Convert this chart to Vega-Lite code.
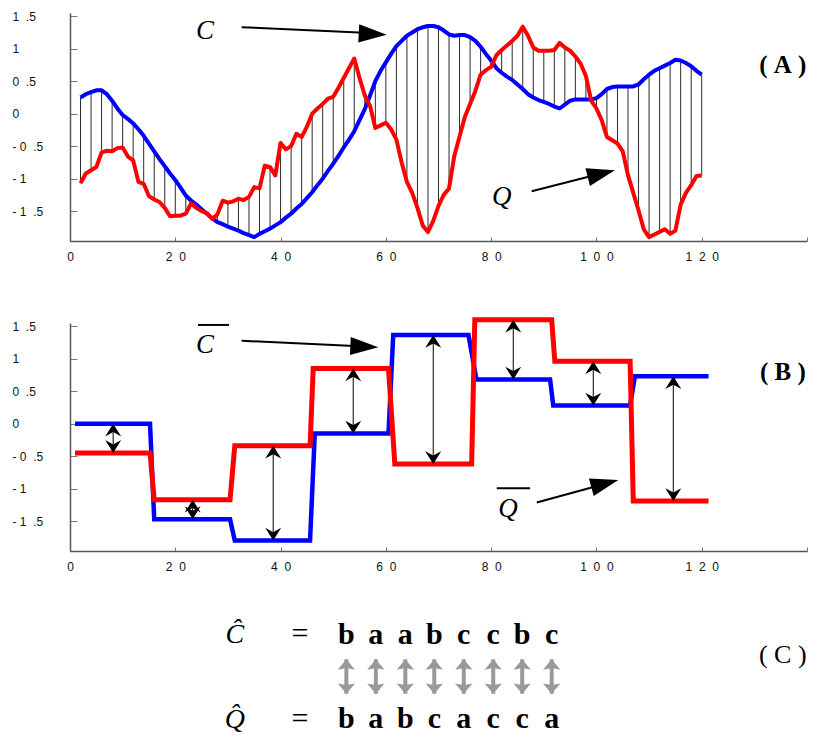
{
  "$schema": "https://vega.github.io/schema/vega-lite/v6.json",
  "padding": {"left": 12, "top": 10, "right": 0, "bottom": 0},
  "background": "white",
  "bounds": "flush",
  "spacing": 82,
  "resolve": {"scale": {"x": "independent", "y": "independent"}},
  "config": {
    "view": {"stroke": null},
    "axis": {"grid": false, "domainColor": "#555", "domainWidth": 1.5, "tickColor": "#777", "tickWidth": 1, "labelFont": "Liberation Sans", "labelFontSize": 12, "labelColor": "#111", "labelFlush": false, "labelOverlap": false}
  },
  "datasets": {
    "sA": [
      {"x":2,"c":0.25,"q":-1.07},{"x":3,"c":0.30,"q":-0.92},{"x":4,"c":0.33,"q":-0.87},{"x":5,"c":0.36,"q":-0.82},{"x":6,"c":0.36,"q":-0.60},{"x":7,"c":0.30,"q":-0.57},{"x":8,"c":0.20,"q":-0.58},{"x":9,"c":0.08,"q":-0.53},{"x":10,"c":-0.02,"q":-0.52},
      {"x":11,"c":-0.08,"q":-0.66},{"x":12,"c":-0.15,"q":-0.72},{"x":13,"c":-0.24,"q":-1.05},{"x":14,"c":-0.34,"q":-1.08},{"x":15,"c":-0.46,"q":-1.27},{"x":16,"c":-0.58,"q":-1.32},{"x":17,"c":-0.70,"q":-1.36},{"x":18,"c":-0.81,"q":-1.45},{"x":19,"c":-0.92,"q":-1.58},{"x":20,"c":-1.02,"q":-1.57},
      {"x":21,"c":-1.14,"q":-1.57},{"x":22,"c":-1.26,"q":-1.54},{"x":23,"c":-1.34,"q":-1.38},{"x":24,"c":-1.40,"q":-1.45},{"x":25,"c":-1.47,"q":-1.50},{"x":26,"c":-1.54,"q":-1.53},{"x":27,"c":-1.61,"q":-1.62},{"x":28,"c":-1.67,"q":-1.55},{"x":29,"c":-1.70,"q":-1.34},{"x":30,"c":-1.74,"q":-1.37},
      {"x":31,"c":-1.77,"q":-1.35},{"x":32,"c":-1.80,"q":-1.31},{"x":33,"c":-1.84,"q":-1.33},{"x":34,"c":-1.87,"q":-1.28},{"x":35,"c":-1.90,"q":-1.13},{"x":36,"c":-1.85,"q":-1.15},{"x":37,"c":-1.81,"q":-0.80},{"x":38,"c":-1.77,"q":-0.82},{"x":39,"c":-1.72,"q":-0.95},{"x":40,"c":-1.67,"q":-0.45},
      {"x":41,"c":-1.60,"q":-0.55},{"x":42,"c":-1.54,"q":-0.50},{"x":43,"c":-1.46,"q":-0.31},{"x":44,"c":-1.39,"q":-0.36},{"x":45,"c":-1.30,"q":-0.20},{"x":46,"c":-1.21,"q":0.00},{"x":47,"c":-1.10,"q":0.08},{"x":48,"c":-1.00,"q":0.15},{"x":49,"c":-0.88,"q":0.23},{"x":50,"c":-0.77,"q":0.26},
      {"x":51,"c":-0.65,"q":0.40},{"x":52,"c":-0.52,"q":0.55},{"x":53,"c":-0.40,"q":0.70},{"x":54,"c":-0.27,"q":0.85},{"x":55,"c":-0.10,"q":0.55},{"x":56,"c":0.07,"q":0.28},{"x":57,"c":0.28,"q":0.12},{"x":58,"c":0.50,"q":-0.22},{"x":59,"c":0.66,"q":-0.18},{"x":60,"c":0.79,"q":-0.14},
      {"x":61,"c":0.92,"q":-0.24},{"x":62,"c":1.04,"q":-0.40},{"x":63,"c":1.12,"q":-0.75},{"x":64,"c":1.20,"q":-1.05},{"x":65,"c":1.25,"q":-1.22},{"x":66,"c":1.30,"q":-1.45},{"x":67,"c":1.33,"q":-1.72},{"x":68,"c":1.35,"q":-1.82},{"x":69,"c":1.35,"q":-1.65},{"x":70,"c":1.33,"q":-1.42},
      {"x":71,"c":1.28,"q":-1.25},{"x":72,"c":1.22,"q":-1.15},{"x":73,"c":1.20,"q":-0.65},{"x":74,"c":1.21,"q":-0.35},{"x":75,"c":1.21,"q":-0.05},{"x":76,"c":1.18,"q":0.15},{"x":77,"c":1.12,"q":0.35},{"x":78,"c":1.03,"q":0.60},{"x":79,"c":0.92,"q":0.67},{"x":80,"c":0.82,"q":0.72},
      {"x":81,"c":0.70,"q":0.90},{"x":82,"c":0.63,"q":0.98},{"x":83,"c":0.57,"q":1.05},{"x":84,"c":0.52,"q":1.12},{"x":85,"c":0.45,"q":1.20},{"x":86,"c":0.38,"q":1.34},{"x":87,"c":0.30,"q":1.20},{"x":88,"c":0.25,"q":1.02},{"x":89,"c":0.21,"q":0.97},{"x":90,"c":0.18,"q":0.97},
      {"x":91,"c":0.15,"q":0.97},{"x":92,"c":0.11,"q":0.98},{"x":93,"c":0.08,"q":1.09},{"x":94,"c":0.14,"q":1.02},{"x":95,"c":0.20,"q":0.97},{"x":96,"c":0.22,"q":0.88},{"x":97,"c":0.22,"q":0.77},{"x":98,"c":0.22,"q":0.58},{"x":99,"c":0.22,"q":0.20},{"x":100,"c":0.24,"q":0.08},
      {"x":101,"c":0.30,"q":-0.10},{"x":102,"c":0.38,"q":-0.36},{"x":103,"c":0.41,"q":-0.41},{"x":104,"c":0.42,"q":-0.46},{"x":105,"c":0.42,"q":-0.58},{"x":106,"c":0.42,"q":-0.95},{"x":107,"c":0.42,"q":-1.22},{"x":108,"c":0.45,"q":-1.49},{"x":109,"c":0.53,"q":-1.78},{"x":110,"c":0.60,"q":-1.90},
      {"x":111,"c":0.66,"q":-1.86},{"x":112,"c":0.70,"q":-1.82},{"x":113,"c":0.74,"q":-1.78},{"x":114,"c":0.78,"q":-1.85},{"x":115,"c":0.83,"q":-1.80},{"x":116,"c":0.82,"q":-1.40},{"x":117,"c":0.78,"q":-1.22},{"x":118,"c":0.73,"q":-1.10},{"x":119,"c":0.66,"q":-0.96},{"x":120,"c":0.60,"q":-0.95}
    ],
    "sB": [
      {"s":"C","x":0.95,"y":0},{"s":"C","x":15.2,"y":0},{"s":"C","x":16.0,"y":-1.47},{"s":"C","x":30.4,"y":-1.47},{"s":"C","x":31.3,"y":-1.80},{"s":"C","x":45.6,"y":-1.80},{"s":"C","x":46.5,"y":-0.15},{"s":"C","x":60.5,"y":-0.15},{"s":"C","x":61.4,"y":1.365},{"s":"C","x":75.7,"y":1.365},{"s":"C","x":77.2,"y":0.68},{"s":"C","x":91.2,"y":0.68},{"s":"C","x":91.8,"y":0.28},{"s":"C","x":106.4,"y":0.28},{"s":"C","x":107.3,"y":0.73},{"s":"C","x":121.3,"y":0.73},
      {"s":"Q","x":0.95,"y":-0.45},{"s":"Q","x":15.2,"y":-0.45},{"s":"Q","x":16.0,"y":-1.17},{"s":"Q","x":30.4,"y":-1.17},{"s":"Q","x":31.3,"y":-0.34},{"s":"Q","x":45.6,"y":-0.34},{"s":"Q","x":46.2,"y":0.85},{"s":"Q","x":60.5,"y":0.85},{"s":"Q","x":61.7,"y":-0.62},{"s":"Q","x":76.3,"y":-0.62},{"s":"Q","x":76.9,"y":1.60},{"s":"Q","x":91.5,"y":1.60},{"s":"Q","x":92.1,"y":0.96},{"s":"Q","x":106.4,"y":0.96},{"s":"Q","x":107.0,"y":-1.19},{"s":"Q","x":121.3,"y":-1.19}
    ],
    "arrB": [
      {"x":8.2,"top":0,"bot":-0.45},{"x":23.3,"top":-1.17,"bot":-1.47},{"x":38.6,"top":-0.34,"bot":-1.80},{"x":53.8,"top":0.85,"bot":-0.15},{"x":69,"top":1.365,"bot":-0.62},{"x":84.2,"top":1.60,"bot":0.68},{"x":99.4,"top":0.96,"bot":0.28},{"x":114.6,"top":0.73,"bot":-1.19}
    ],
    "arrC": [
      {"x":52.5,"top":74.5,"bot":41},{"x":58.1,"top":74.5,"bot":41},{"x":63.7,"top":74.5,"bot":41},{"x":69.2,"top":74.5,"bot":41},{"x":74.8,"top":74.5,"bot":41},{"x":80.4,"top":74.5,"bot":41},{"x":85.9,"top":74.5,"bot":41},{"x":91.5,"top":74.5,"bot":41}
    ],
    "letters": [
      {"x":52.5,"y":89,"t":"b"},{"x":58.1,"y":89,"t":"a"},{"x":63.7,"y":89,"t":"a"},{"x":69.2,"y":89,"t":"b"},{"x":74.8,"y":89,"t":"c"},{"x":80.4,"y":89,"t":"c"},{"x":85.9,"y":89,"t":"b"},{"x":91.5,"y":89,"t":"c"},
      {"x":52.5,"y":7.8,"t":"b"},{"x":58.1,"y":7.8,"t":"a"},{"x":63.7,"y":7.8,"t":"b"},{"x":69.2,"y":7.8,"t":"c"},{"x":74.8,"y":7.8,"t":"a"},{"x":80.4,"y":7.8,"t":"c"},{"x":85.9,"y":7.8,"t":"c"},{"x":91.5,"y":7.8,"t":"a"}
    ]
  },
  "vconcat": [
    {
      "width": 737, "height": 228,
      "layer": [
        {
          "data": {"name": "sA"},
          "transform": [{"filter": "datum.x % 2 == 0"}],
          "mark": {"type": "rule", "color": "#2a2a2a", "strokeWidth": 1},
          "encoding": {
            "x": {"field": "x", "type": "quantitative", "title": null, "scale": {"domain": [0, 140], "nice": false, "zero": false},
                  "axis": {"values": [0,20,40,60,80,100,120,140], "tickCount": 20, "tickSize": -4, "labelPadding": 14, "labelOverlap": false, "labelExpr": "datum.value >= 140 ? '' : replace(datum.label, regexp('([0-9])(?=[0-9])','g'), '$1\u00a0\u00a0')"}},
            "y": {"field": "c", "type": "quantitative", "title": null, "scale": {"domain": [-1.96, 1.55], "nice": false, "zero": false},
                  "axis": {"values": [-1.5,-1,-0.5,0,0.5,1,1.5], "tickCount": 20, "tickSize": -7, "labelAlign": "left", "labelBaseline": "middle", "labelOverlap": false, "labelPadding": 65,
                           "labelExpr": "datum.value > 1.2 ? '\u00a0\u00a01\u00a0\u00a0.5' : datum.value > 0.7 ? '\u00a0\u00a01' : datum.value > 0.2 ? '\u00a0\u00a00\u00a0\u00a0.5' : datum.value > -0.2 ? '\u00a0\u00a00' : datum.value > -0.7 ? '-\u00a00\u00a0\u00a0.5' : datum.value > -1.2 ? '-\u00a01' : '-\u00a01\u00a0\u00a0.5'"}},
            "y2": {"field": "q"}
          }
        },
        {
          "data": {"name": "sA"},
          "mark": {"type": "line", "color": "#0000ff", "strokeWidth": 4, "strokeJoin": "round"},
          "encoding": {"x": {"field": "x", "type": "quantitative", "title": null}, "y": {"field": "c", "type": "quantitative", "title": null}}
        },
        {
          "data": {"name": "sA"},
          "mark": {"type": "line", "color": "#ff0000", "strokeWidth": 4, "strokeJoin": "round"},
          "encoding": {"x": {"field": "x", "type": "quantitative", "title": null}, "y": {"field": "q", "type": "quantitative", "title": null}}
        },
        {
          "data": {"values": [{"x": 32.6, "y": 1.332, "x2": 58.0, "y2": 1.24}, {"x": 87.7, "y": -1.195, "x2": 100.0, "y2": -0.94}]},
          "mark": {"type": "rule", "color": "black", "strokeWidth": 2},
          "encoding": {"x": {"field": "x", "type": "quantitative", "title": null}, "y": {"field": "y", "type": "quantitative", "title": null}, "x2": {"field": "x2"}, "y2": {"field": "y2"}}
        },
        {
          "data": {"values": [{"x": 60.16, "y": 1.215, "a": 3.0}, {"x": 103.5, "y": -0.872, "a": -14.15}]},
          "mark": {"type": "point", "shape": "M0,0 L-2,-0.65 L-2,0.65 Z", "filled": true, "color": "black", "opacity": 1, "size": 784},
          "encoding": {"x": {"field": "x", "type": "quantitative", "title": null}, "y": {"field": "y", "type": "quantitative", "title": null}, "angle": {"field": "a", "type": "quantitative", "scale": null}}
        },
        {
          "data": {"values": [{"x": 25.65, "y": 1.266, "t": "C"}, {"x": 82.0, "y": -1.283, "t": "Q"}]},
          "mark": {"type": "text", "font": "Liberation Serif", "fontStyle": "italic", "fontSize": 27, "color": "black", "align": "center", "baseline": "middle"},
          "encoding": {"x": {"field": "x", "type": "quantitative", "title": null}, "y": {"field": "y", "type": "quantitative", "title": null}, "text": {"field": "t"}}
        },
        {
          "data": {"values": [{"x": 135.4, "y": 0.743, "t": "(\u00a0A\u00a0)"}]},
          "mark": {"type": "text", "font": "Liberation Serif", "fontWeight": "bold", "fontSize": 25, "color": "black", "align": "center", "baseline": "middle"},
          "encoding": {"x": {"field": "x", "type": "quantitative", "title": null}, "y": {"field": "y", "type": "quantitative", "title": null}, "text": {"field": "t"}}
        }
      ]
    },
    {
      "width": 737, "height": 228,
      "layer": [
        {
          "data": {"name": "arrB"},
          "mark": {"type": "rule", "color": "black", "strokeWidth": 1},
          "encoding": {
            "x": {"field": "x", "type": "quantitative", "title": null, "scale": {"domain": [0, 140], "nice": false, "zero": false},
                  "axis": {"values": [0,20,40,60,80,100,120,140], "tickCount": 20, "tickSize": -4, "labelPadding": 14, "labelOverlap": false, "labelExpr": "datum.value >= 140 ? '' : replace(datum.label, regexp('([0-9])(?=[0-9])','g'), '$1\u00a0\u00a0')"}},
            "y": {"field": "bot", "type": "quantitative", "title": null, "scale": {"domain": [-1.96, 1.55], "nice": false, "zero": false},
                  "axis": {"values": [-1.5,-1,-0.5,0,0.5,1,1.5], "tickCount": 20, "tickSize": -7, "labelAlign": "left", "labelBaseline": "middle", "labelOverlap": false, "labelPadding": 65,
                           "labelExpr": "datum.value > 1.2 ? '\u00a0\u00a01\u00a0\u00a0.5' : datum.value > 0.7 ? '\u00a0\u00a01' : datum.value > 0.2 ? '\u00a0\u00a00\u00a0\u00a0.5' : datum.value > -0.2 ? '\u00a0\u00a00' : datum.value > -0.7 ? '-\u00a00\u00a0\u00a0.5' : datum.value > -1.2 ? '-\u00a01' : '-\u00a01\u00a0\u00a0.5'"}},
            "y2": {"field": "top"}
          }
        },
        {
          "data": {"name": "sB"},
          "transform": [{"filter": "datum.s == 'C'"}],
          "mark": {"type": "line", "color": "#0000ff", "strokeWidth": 4.5, "strokeJoin": "miter"},
          "encoding": {"x": {"field": "x", "type": "quantitative", "title": null}, "y": {"field": "y", "type": "quantitative", "title": null}}
        },
        {
          "data": {"name": "sB"},
          "transform": [{"filter": "datum.s == 'Q'"}],
          "mark": {"type": "line", "color": "#ff0000", "strokeWidth": 5, "strokeJoin": "miter"},
          "encoding": {"x": {"field": "x", "type": "quantitative", "title": null}, "y": {"field": "y", "type": "quantitative", "title": null}}
        },
        {
          "data": {"name": "arrB"},
          "mark": {"type": "point", "shape": "M0,0 L1,1.6 L0,1.05 L-1,1.6 Z", "filled": true, "color": "black", "opacity": 1, "size": 256},
          "encoding": {"x": {"field": "x", "type": "quantitative", "title": null}, "y": {"field": "top", "type": "quantitative", "title": null}}
        },
        {
          "data": {"name": "arrB"},
          "mark": {"type": "point", "shape": "M0,0 L1,-1.6 L0,-1.05 L-1,-1.6 Z", "filled": true, "color": "black", "opacity": 1, "size": 256},
          "encoding": {"x": {"field": "x", "type": "quantitative", "title": null}, "y": {"field": "bot", "type": "quantitative", "title": null}}
        },
        {
          "data": {"values": [{"x": 32.6, "y": 1.277, "x2": 56.0, "y2": 1.19}, {"x": 88.66, "y": -1.212, "x2": 101.0, "y2": -0.94}]},
          "mark": {"type": "rule", "color": "black", "strokeWidth": 2},
          "encoding": {"x": {"field": "x", "type": "quantitative", "title": null}, "y": {"field": "y", "type": "quantitative", "title": null}, "x2": {"field": "x2"}, "y2": {"field": "y2"}}
        },
        {
          "data": {"values": [{"x": 24.3, "y": 1.52, "x2": 30.2}, {"x": 81.06, "y": -0.995, "x2": 87.4}]},
          "mark": {"type": "rule", "color": "black", "strokeWidth": 2},
          "encoding": {"x": {"field": "x", "type": "quantitative", "title": null}, "y": {"field": "y", "type": "quantitative", "title": null}, "x2": {"field": "x2"}}
        },
        {
          "data": {"values": [{"x": 58.57, "y": 1.175, "a": 2.77}, {"x": 104.16, "y": -0.866, "a": -15.35}]},
          "mark": {"type": "point", "shape": "M0,0 L-2,-0.65 L-2,0.65 Z", "filled": true, "color": "black", "opacity": 1, "size": 784},
          "encoding": {"x": {"field": "x", "type": "quantitative", "title": null}, "y": {"field": "y", "type": "quantitative", "title": null}, "angle": {"field": "a", "type": "quantitative", "scale": null}}
        },
        {
          "data": {"values": [{"x": 25.65, "y": 1.21, "t": "C"}, {"x": 83.2, "y": -1.315, "t": "Q"}]},
          "mark": {"type": "text", "font": "Liberation Serif", "fontStyle": "italic", "fontSize": 27, "color": "black", "align": "center", "baseline": "middle"},
          "encoding": {"x": {"field": "x", "type": "quantitative", "title": null}, "y": {"field": "y", "type": "quantitative", "title": null}, "text": {"field": "t"}}
        },
        {
          "data": {"values": [{"x": 135.4, "y": 0.793, "t": "(\u00a0B\u00a0)"}]},
          "mark": {"type": "text", "font": "Liberation Serif", "fontWeight": "bold", "fontSize": 25, "color": "black", "align": "center", "baseline": "middle"},
          "encoding": {"x": {"field": "x", "type": "quantitative", "title": null}, "y": {"field": "y", "type": "quantitative", "title": null}, "text": {"field": "t"}}
        }
      ]
    },
    {
      "width": 737, "height": 103,
      "layer": [
        {
          "data": {"name": "arrC"},
          "mark": {"type": "rule", "color": "#999999", "strokeWidth": 4},
          "encoding": {
            "x": {"field": "x", "type": "quantitative", "axis": null, "scale": {"domain": [0, 140], "nice": false, "zero": false}},
            "y": {"field": "bot", "type": "quantitative", "axis": null, "scale": {"domain": [0, 100], "nice": false, "zero": false}},
            "y2": {"field": "top"}
          }
        },
        {
          "data": {"name": "arrC"},
          "mark": {"type": "point", "shape": "M0,0 L1,1.2 L0,1.0 L-1,1.2 Z", "filled": true, "color": "#999999", "opacity": 1, "size": 300},
          "encoding": {"x": {"field": "x", "type": "quantitative", "axis": null}, "y": {"field": "top", "type": "quantitative", "axis": null}}
        },
        {
          "data": {"name": "arrC"},
          "mark": {"type": "point", "shape": "M0,0 L1,-1.2 L0,-1.0 L-1,-1.2 Z", "filled": true, "color": "#999999", "opacity": 1, "size": 300},
          "encoding": {"x": {"field": "x", "type": "quantitative", "axis": null}, "y": {"field": "bot", "type": "quantitative", "axis": null}}
        },
        {
          "data": {"name": "letters"},
          "mark": {"type": "text", "font": "Liberation Serif", "fontWeight": "bold", "fontSize": 30, "color": "black", "align": "center", "baseline": "alphabetic"},
          "encoding": {"x": {"field": "x", "type": "quantitative", "axis": null}, "y": {"field": "y", "type": "quantitative", "axis": null}, "text": {"field": "t"}}
        },
        {
          "data": {"values": [{"x": 31.3, "y": 90, "t": "Ĉ"}, {"x": 31.3, "y": 7.8, "t": "Q̂"}]},
          "mark": {"type": "text", "font": "Liberation Serif", "fontStyle": "italic", "fontSize": 28, "color": "black", "align": "center", "baseline": "alphabetic"},
          "encoding": {"x": {"field": "x", "type": "quantitative", "axis": null}, "y": {"field": "y", "type": "quantitative", "axis": null}, "text": {"field": "t"}}
        },
        {
          "data": {"values": [{"x": 43.7, "y": 90, "t": "="}, {"x": 43.7, "y": 7.8, "t": "="}]},
          "mark": {"type": "text", "font": "Liberation Serif", "fontSize": 30, "color": "black", "align": "center", "baseline": "alphabetic"},
          "encoding": {"x": {"field": "x", "type": "quantitative", "axis": null}, "y": {"field": "y", "type": "quantitative", "axis": null}, "text": {"field": "t"}}
        },
        {
          "data": {"values": [{"x": 135.4, "y": 78.6, "t": "(\u00a0C\u00a0)"}]},
          "mark": {"type": "text", "font": "Liberation Serif", "fontSize": 26, "color": "black", "align": "center", "baseline": "middle"},
          "encoding": {"x": {"field": "x", "type": "quantitative", "axis": null}, "y": {"field": "y", "type": "quantitative", "axis": null}, "text": {"field": "t"}}
        }
      ]
    }
  ]
}
